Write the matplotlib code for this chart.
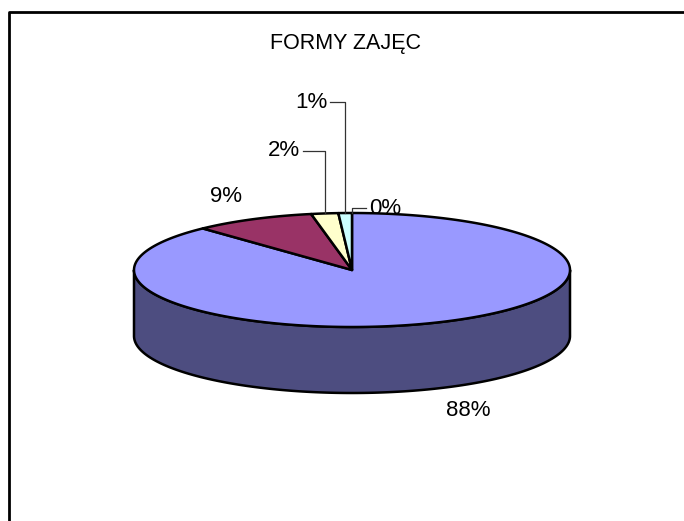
import matplotlib as mpl
mpl.use("Agg")
import matplotlib.pyplot as plt
import numpy as np
from matplotlib.patches import Polygon

# data
title = 'FORMY ZAJĘC'
values = [88, 9, 2, 1, 0]
top_colors = ['#9999FF', '#993366', '#FFFFCC', '#CCFFFF', '#660066']
side_colors = ['#4D4D80', '#4D1A33', '#808066', '#668080', '#330033']

# layout (pixels, y down)
cx, cy = 352, 270      # centre of top face
rx, ry = 218, 57       # ellipse radii
depth = 66
label_pos = [(468, 410), (226, 196), (284, 151), (311, 102), (385, 208)]
leader = [False, False, True, True, True]

plt.rcParams['font.family'] = ['Liberation Sans', 'DejaVu Sans']

fig = plt.figure(figsize=(6.84, 5.21), dpi=100)
ax = fig.add_axes([0, 0, 1, 1])
ax.set_xlim(0, 684)
ax.set_ylim(521, 0)
ax.axis('off')


def rim(theta, dy=0):
    t = np.radians(theta)
    return np.column_stack([cx + rx * np.cos(t), cy - ry * np.sin(t) + dy])


total = float(sum(values))
frac = np.array(values) / total
starts = 90 - 360 * np.concatenate([[0], np.cumsum(frac)[:-1]])
ends = starts - 360 * frac

# side walls (front half only: math angles in [-180, 0])
for i in range(len(values)):
    if frac[i] == 0:
        continue
    a0, a1 = ends[i], starts[i]
    for k in (-360, 0, 360):
        lo = max(a0 + k, -180)
        hi = min(a1 + k, 0)
        if hi > lo:
            th = np.linspace(lo, hi, 200)
            top = rim(th)
            bot = rim(th[::-1], depth)
            ax.add_patch(Polygon(np.vstack([top, bot]), closed=True,
                                 facecolor=side_colors[i], edgecolor='black',
                                 lw=1.8, joinstyle='round', zorder=1))

# top face wedges
for i in range(len(values)):
    if frac[i] == 0:
        continue
    th = np.linspace(starts[i], ends[i], 400)
    pts = np.vstack([[cx, cy], rim(th)])
    ax.add_patch(Polygon(pts, closed=True, facecolor=top_colors[i],
                         edgecolor='black', lw=1.8, joinstyle='round', zorder=2))

# labels
texts = []
for i in range(len(values)):
    pct = '{:.0f}%'.format(frac[i] * 100)
    lx, ly = label_pos[i]
    texts.append(ax.text(lx, ly, pct, ha='center', va='center',
                         fontsize=16, zorder=4))

ax.text(346, 43, title, ha='center', va='center', fontsize=15.5)

# leader lines, from the text edge down to the rim near the slice
fig.canvas.draw()
inv = ax.transData.inverted()
for i in range(len(values)):
    if not leader[i]:
        continue
    bb = texts[i].get_window_extent()
    (x0, _), (x1, _) = inv.transform([[bb.x0, bb.y0], [bb.x1, bb.y1]])
    lx, ly = label_pos[i]
    mid = (starts[i] + ends[i]) / 2
    px, py = rim([mid])[0]
    if lx < px:
        xs = [x1 + 3, px, px]
    else:
        xs = [x0 - 3, px, px]
    ax.plot(xs, [ly, ly, py], color='#333333', lw=0.9, zorder=3)

# chart border (left and top visible)
ax.plot([9, 9, 684], [521, 12, 12], color='black', lw=2, zorder=5)

fig.savefig('out.png', dpi=100)
plt.close(fig)
